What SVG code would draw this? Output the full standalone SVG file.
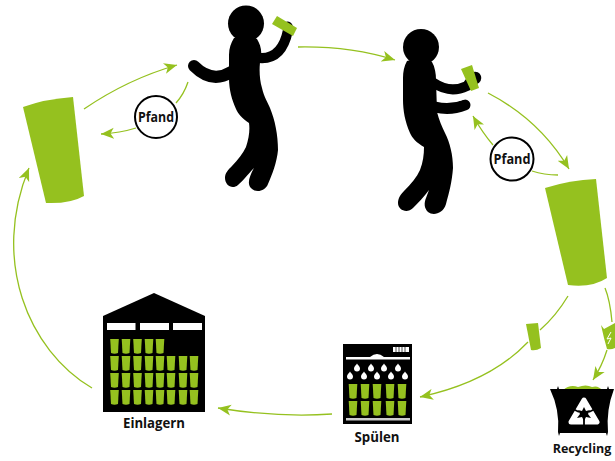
<svg xmlns="http://www.w3.org/2000/svg" xmlns:xlink="http://www.w3.org/1999/xlink" width="615" height="461" viewBox="0 0 615 461">
<style>
.g{fill:#95c11f}
.k{fill:#000}
.w{fill:#fff}
.c{fill:none;stroke:#95c11f;stroke-width:1.3}
.a{marker-end:url(#ah)}
.limb{fill:none;stroke:#000;stroke-linecap:round}
.lb{font-family:"Open Sans","Noto Sans",sans-serif;font-weight:700;fill:#111;text-anchor:middle}
.ring{fill:#fff;stroke:#000;stroke-width:2}
</style>
<defs>
<marker id="ah" markerUnits="userSpaceOnUse" markerWidth="14" markerHeight="12" refX="13" refY="6" orient="auto">
<path d="M0,0.5 L13,6 L0,11.5 L3.5,6 Z" fill="#95c11f"/>
</marker>
<path id="cup" d="M-4.300,0 H4.300 L3.500,14 Q0,15.400 -3.500,14 Z" fill="#95c11f"/>
<path id="drop" d="M0,-4.500 C0.800,-2.800 3,-1.600 3,0.600 A3,3 0 0 1 -3,0.600 C-3,-1.600 -0.800,-2.800 0,-4.500 Z" fill="#fff"/>
</defs>
<g id="connectors">
<path class="c a" d="M84,109 Q128,79 177,65"/>
<path class="c" d="M188,82 Q184,94 176,103"/>
<path class="c a" d="M136,128 Q120,133 101,134"/>
<path class="c a" d="M92,388 C28,350 -9,260 29,168"/>
<path class="c a" d="M298,47 Q350,46 395,60"/>
<path class="c a" d="M488,93 Q540,120 569,169"/>
<path class="c" d="M558,175 Q544,175 532,171"/>
<path class="c a" d="M493,145 Q482,132 473,116"/>
<path class="c" d="M568,296 Q556,316 540,330"/>
<path class="c a" d="M528,342 Q490,382 420,397"/>
<path class="c" d="M605,288 Q610,300 612,322"/>
<path class="c a" d="M607,350 Q602,366 593,380"/>
<path class="c a" d="M332,414 Q280,418 218,408"/>
</g>
<g id="cup-left"><path class="g" d="M23,107 Q45,99 73,97 L84,196 Q70,204 46,203 Z"/></g>
<g id="person-1">
<circle class="k" cx="246" cy="23.500" r="18"/>
<path class="k" d="M234,38 C242,36 250,36 257,39 C260,44 262,50 261,56 C259,66 259,78 262,88 C264,97 268,103 270,108 C275,120 278,135 278,150 C277,162 272,175 268,184 C265,192 255,193 251,188 C247,184 249,177 254,168 C248,174 243,181 238,185 C232,190 225,185 225,178 C225,173 228,170 232,166 C238,160 243,153 246,147 C249,138 250,130 249,123 C242,118 238,114 236,109 C232,100 229,90 229,78 L229,55 C229,48 231,43 234,38 Z"/>
<path class="limb" stroke-width="10" d="M259,58 Q282,60 288,30"/>
<path class="limb" stroke-width="12" d="M231,72 Q212,84 194,66"/>
<path class="k" d="M283,24 a5,5 0 1 1 9,6 z"/>
<path class="g" d="M277,16 L297,28 L293,36 L272,24 Z"/>
</g>
<g id="person-2">
<circle class="k" cx="421" cy="47" r="18"/>
<path class="k" d="M407,61 C415,59 425,59 432,62 C435,67 436,74 436,80 L437,112 C439,120 442,127 445,133 C450,143 453,155 453,168 C452,182 449,193 446,204 C443,214 433,216 428,212 C424,208 424,203 426,198 L429,190 C424,197 418,203 413,208 C407,214 398,210 398,203 C398,198 401,194 404,191 C411,184 417,177 420,170 C423,162 424,155 424,147 C417,143 412,138 410,133 C405,122 403,110 403,100 L403,78 C403,72 404,66 407,61 Z"/>
<path class="limb" stroke-width="10" d="M434,83 Q450,94 467,86 L473,78"/>
<path class="limb" stroke-width="11" d="M435,107 Q450,111 465,105"/>
<path d="M438,98.500 Q452,104 466,98" fill="none" stroke="#fff" stroke-width="1.500"/>
<path class="k" d="M473,72 a5,5 0 1 1 4,12 z"/>
<path class="g" d="M461,69 L472,65 L479,88 L471,91 Z"/>
</g>
<g id="pfand-1"><circle class="ring" cx="156" cy="117" r="21"/><text class="lb" x="156" y="122" font-size="15" textLength="36" lengthAdjust="spacingAndGlyphs">Pfand</text></g>
<g id="pfand-2"><circle class="ring" cx="512" cy="159" r="21.500"/><text class="lb" x="512" y="164" font-size="15" textLength="37" lengthAdjust="spacingAndGlyphs">Pfand</text></g>
<g id="cup-right"><path class="g" d="M545,188 Q570,180 596,179 L607,278 Q592,288 568,285 Z"/></g>
<g id="cup-small"><path class="g" d="M526,324 L538,323 L541,348 Q536,351 531,350 Z"/></g>
<g id="cup-broken"><path class="g" d="M601,325 L604,329 L615,323 V348 Q611,350 607,349 L604,338 Z"/><path d="M611,332 L607,339 L611,338 L608,344" fill="none" stroke="#fff" stroke-width="1"/></g>
<g id="einlagern">
<path class="k" d="M103,316 L154,293 L205,316 V412 H103 Z"/>
<rect class="w" x="107" y="323" width="28.500" height="7"/><rect class="w" x="140" y="323" width="29" height="7"/><rect class="w" x="173" y="323" width="29" height="7"/>
<use xlink:href="#cup" x="114.500" y="339"/><use xlink:href="#cup" x="126" y="339"/><use xlink:href="#cup" x="137.500" y="339"/><use xlink:href="#cup" x="149" y="339"/><use xlink:href="#cup" x="160" y="339"/>
<use xlink:href="#cup" x="114.500" y="356"/><use xlink:href="#cup" x="126" y="356"/><use xlink:href="#cup" x="137.500" y="356"/><use xlink:href="#cup" x="149" y="356"/><use xlink:href="#cup" x="160" y="356"/><use xlink:href="#cup" x="171" y="356"/><use xlink:href="#cup" x="183" y="356"/><use xlink:href="#cup" x="194" y="356"/>
<use xlink:href="#cup" x="114.500" y="373"/><use xlink:href="#cup" x="126" y="373"/><use xlink:href="#cup" x="137.500" y="373"/><use xlink:href="#cup" x="149" y="373"/><use xlink:href="#cup" x="160" y="373"/><use xlink:href="#cup" x="171" y="373"/><use xlink:href="#cup" x="183" y="373"/><use xlink:href="#cup" x="194" y="373"/>
<use xlink:href="#cup" x="114.500" y="390"/><use xlink:href="#cup" x="126" y="390"/><use xlink:href="#cup" x="137.500" y="390"/><use xlink:href="#cup" x="149" y="390"/><use xlink:href="#cup" x="160" y="390"/><use xlink:href="#cup" x="171" y="390"/><use xlink:href="#cup" x="183" y="390"/><use xlink:href="#cup" x="194" y="390"/>
<text class="lb" x="154" y="428" font-size="14" textLength="62" lengthAdjust="spacingAndGlyphs">Einlagern</text>
</g>
<g id="spuelen">
<rect class="k" x="343" y="344" width="69" height="80"/>
<rect class="w" x="393" y="347" width="16" height="5"/>
<path d="M396,347 v5 M399,347 v5 M402,347 v5 M405,347 v5" stroke="#000" stroke-width="0.700"/>
<path class="w" d="M346,357 H370 Q377,351 384,357 H410 V359.500 H346 Z"/>
<use xlink:href="#drop" x="357" y="368"/><use xlink:href="#drop" x="371" y="368"/><use xlink:href="#drop" x="384" y="368"/><use xlink:href="#drop" x="398" y="368"/>
<use xlink:href="#drop" x="350" y="376"/><use xlink:href="#drop" x="364" y="376"/><use xlink:href="#drop" x="377" y="376"/><use xlink:href="#drop" x="391" y="376"/><use xlink:href="#drop" x="405" y="376"/>
<use xlink:href="#cup" x="353" y="384"/><use xlink:href="#cup" x="365" y="384"/><use xlink:href="#cup" x="377" y="384"/><use xlink:href="#cup" x="390" y="384"/><use xlink:href="#cup" x="402" y="384"/>
<use xlink:href="#cup" x="353" y="401"/><use xlink:href="#cup" x="365" y="401"/><use xlink:href="#cup" x="377" y="401"/><use xlink:href="#cup" x="390" y="401"/><use xlink:href="#cup" x="402" y="401"/>
<rect x="346" y="418" width="64" height="2.500" fill="#ccc"/>
<text class="lb" x="377" y="442" font-size="14" textLength="45" lengthAdjust="spacingAndGlyphs">Spülen</text>
</g>
<g id="recycling">
<path class="g" d="M563,390 Q570,384 578,387 Q586,384 592,387 Q598,385 602,390 Z"/>
<path class="k" d="M550,389 H557 L558,386 L559,389 H607 L608,386 L609,389 H614 Q606,410 608,432 L607,436 L606,433 H560 L559,436 L558,432 Q560,410 550,389 Z"/>
<path class="w" stroke="#fff" stroke-width="5" stroke-linejoin="round" d="M584,400 L597,422 H571 Z"/>
<path class="k" d="M584,407 L586,411 L590,410 L588,414 L591,418 L586,417 L584,421 L582,417 L577,418 L580,414 L578,410 L582,411 Z"/>
<path d="M579,412 L569,407 M589,412 L599,407 M584,419 V428" stroke="#000" stroke-width="1.800" fill="none"/>
<text class="lb" x="582" y="453" font-size="12.500">Recycling</text>
</g>
</svg>
